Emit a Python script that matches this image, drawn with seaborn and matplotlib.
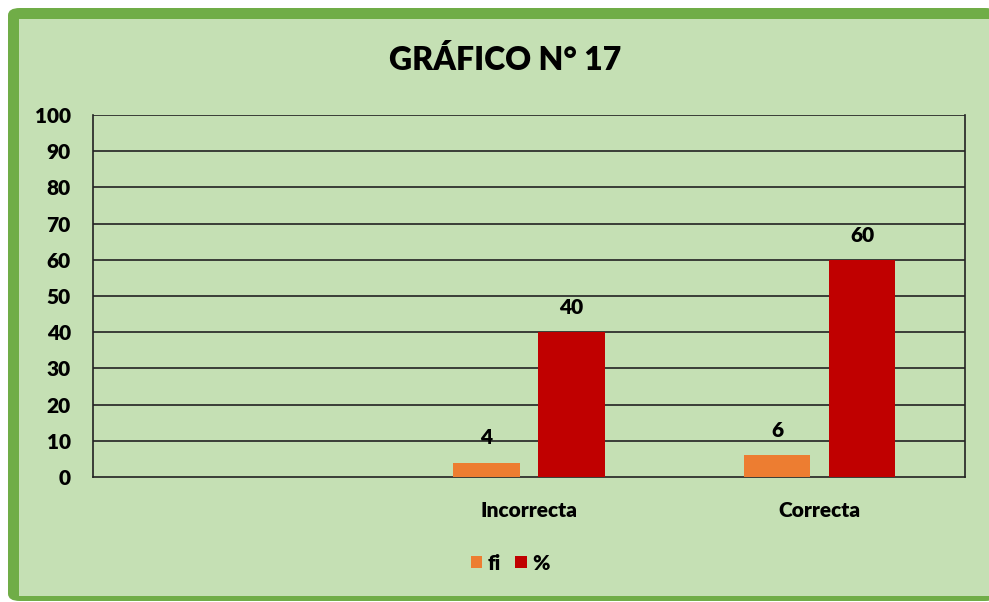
#! /usr/bin/env python3

import pandas as pd
import seaborn as sns
import numpy as np
import matplotlib
matplotlib.use('Agg')

import matplotlib.pyplot as plt
from matplotlib.patches import FancyBboxPatch, Rectangle, Patch

# chart values
categories = ["", "Incorrecta", "Correcta"]
fi = [np.nan, 4, 6]
pct = [np.nan, 40, 60]
series = ["fi", "%"]
yticks = [0, 10, 20, 30, 40, 50, 60, 70, 80, 90, 100]

colors = {"fi": "#ED7D31", "%": "#C00000"}
border = "#70AD47"
fill = "#C5E0B4"


def main():
    df = pd.DataFrame({
        'cat': categories * 2,
        'serie': ["fi"] * len(categories) + ["%"] * len(categories),
        'valor': fi + pct,
    })

    sns.set_style('white')
    plt.rcParams['font.family'] = ['Lato', 'DejaVu Sans']
    plt.rcParams['font.weight'] = 'bold'
    plt.rcParams['text.color'] = 'black'
    plt.rcParams['xtick.color'] = 'black'
    plt.rcParams['ytick.color'] = 'black'

    fig = plt.figure(figsize=(9.89, 6.02), dpi=100)
    fig.patch.set_facecolor('white')
    W, H = 989, 602
    # green frame + light fill
    fig.patches.append(FancyBboxPatch((8 / W, 1 / H), 1.0, (601 - 8) / H,
                                      boxstyle="round,pad=0,rounding_size=0.012",
                                      transform=fig.transFigure, facecolor=border,
                                      edgecolor='none', zorder=0))
    fig.patches.append(Rectangle((19 / W, 6 / H), 1.0, (596 - 19) / H,
                                 transform=fig.transFigure, facecolor=fill,
                                 edgecolor='none', zorder=0))

    ax = fig.add_axes([93 / W, 1 - 477 / H, (965 - 93) / W, (477 - 115) / H])
    ax.set_zorder(2)
    ax.set_facecolor(fill)
    sns.barplot(data=df, x='cat', y='valor', hue='serie', order=categories,
                hue_order=series, palette=colors, width=0.584, gap=0.22,
                saturation=1, linewidth=0, ax=ax, legend=False, zorder=3,
                errorbar=None)

    for cont in ax.containers:
        ax.bar_label(cont, fmt='%g', padding=11, fontsize=15, fontweight='heavy')

    ax.set_ylim(0, 100)
    ax.set_xlim(-0.5, 2.5)
    ax.set_yticks(yticks)
    ax.set_yticklabels([str(t) for t in yticks], fontsize=15, fontweight='heavy')
    ax.set_xticks(range(len(categories)))
    ax.set_xticklabels(categories, fontsize=15, fontweight='heavy')
    ax.tick_params(axis='y', length=0, pad=16)
    ax.tick_params(axis='x', length=0, pad=17)
    ax.set_xlabel('')
    ax.set_ylabel('')
    for y in yticks[1:]:
        ax.axhline(y, color='#222222', lw=1.2, zorder=1)
    for side in ['left', 'right', 'bottom']:
        ax.spines[side].set_color('#222222')
        ax.spines[side].set_linewidth(1.2)
    ax.spines['top'].set_visible(False)

    fig.text(505 / W, 1 - 60 / H, "GRÁFICO N° 17", ha='center', va='center',
             fontsize=23, fontweight='heavy')

    handles = [Patch(facecolor=colors[s], edgecolor='none') for s in series]
    leg = fig.legend(handles, series, loc='center', bbox_to_anchor=(510 / W, 1 - 563 / H),
                     ncol=2, frameon=False, handlelength=0.55, handleheight=0.55,
                     handletextpad=0.25, columnspacing=0.7,
                     prop={'size': 15, 'weight': 'heavy'})
    leg.set_zorder(3)

    plt.savefig('out.png', format='png', dpi=100)


if __name__ == '__main__':
    main()
